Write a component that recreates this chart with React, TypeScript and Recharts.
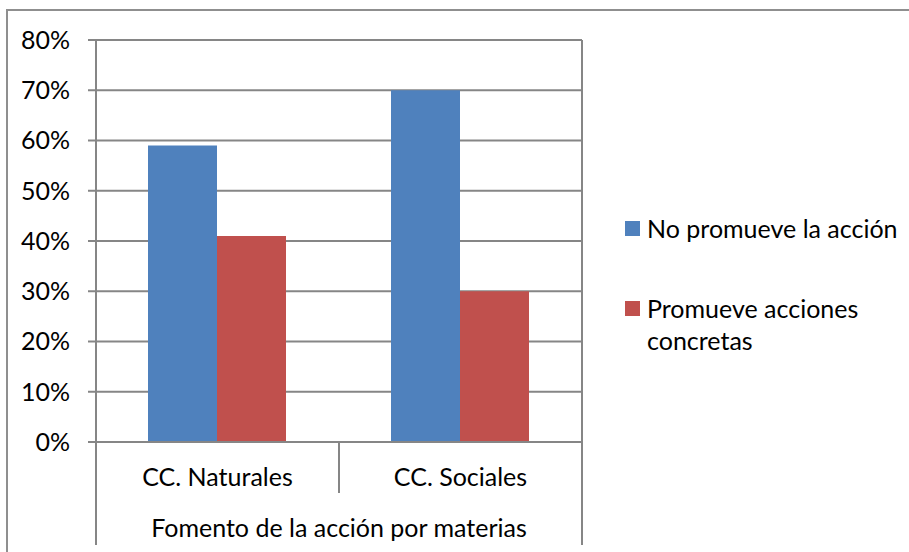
import React from 'react';
import { BarChart, Bar, XAxis, YAxis, CartesianGrid, Legend } from 'recharts';

// Fomento de la acción por materias
const categories = ['CC. Naturales', 'CC. Sociales'];
const noPromueve = [59, 70];
const promueve = [41, 30];
const yTicks = [0, 10, 20, 30, 40, 50, 60, 70, 80];
const seriesNames = ['No promueve la acción', 'Promueve acciones concretas'];
const axisTitle = 'Fomento de la acción por materias';

const FONT = 'Lato, "Open Sans", sans-serif';
const FS = 25;
const GRID = '#868686';
const BLUE = '#4F81BD';
const RED = '#C0504D';

const data = categories.map((name, i) => ({
  name,
  a: noPromueve[i],
  b: promueve[i],
}));

function CategoryTick(props: any) {
  const { x, y, payload, index } = props;
  const half = payload?.offset ?? 0;
  return (
    <g>
      <text x={x} y={y + 44} textAnchor="middle" fontFamily={FONT} fontSize={FS} fill="#000">
        {payload.value}
      </text>
      {index < categories.length - 1 && (
        <line x1={x + half} y1={y} x2={x + half} y2={y + 51} stroke={GRID} strokeWidth={2} />
      )}
    </g>
  );
}

function AxisTitle(props: any) {
  const vb = props.viewBox || {};
  const { x = 0, y = 0, width = 0 } = vb;
  return (
    <g>
      <line x1={x} y1={y} x2={x} y2={y + 103} stroke={GRID} strokeWidth={2} />
      <line x1={x + width} y1={y} x2={x + width} y2={y + 103} stroke={GRID} strokeWidth={2} />
      <text x={x + width / 2} y={y + 95} textAnchor="middle" fontFamily={FONT} fontSize={FS} fill="#000">
        {axisTitle}
      </text>
    </g>
  );
}

function LegendBox(props: any) {
  const items = props.payload || [];
  return (
    <div style={{ fontFamily: FONT, fontSize: FS, lineHeight: '32px', color: '#000' }}>
      {items.map((it: any, i: number) => (
        <div key={i} style={{ display: 'flex', alignItems: 'flex-start', marginTop: i === 0 ? 0 : 48 }}>
          <span
            style={{
              display: 'inline-block',
              width: 15,
              height: 15,
              background: it.color,
              marginTop: 9,
              marginRight: 7,
              flex: 'none',
            }}
          />
          <span style={{ width: 258 }}>{it.value}</span>
        </div>
      ))}
    </div>
  );
}

export default function App() {
  return (
    <div style={{ position: 'absolute', left: 0, top: 0, width: 909, height: 552, background: '#fff' }}>
      <div
        style={{
          position: 'absolute',
          left: 6,
          top: 9,
          width: 920,
          height: 560,
          borderTop: '2px solid #8f8f8f',
          borderLeft: '2px solid #8f8f8f',
        }}
      />
      <BarChart
        width={909}
        height={552}
        data={data}
        margin={{ top: 40, right: 327, bottom: 0, left: 0 }}
        barCategoryGap="21.4%"
        barGap={0}
      >
        <CartesianGrid
          horizontal
          vertical
          stroke={GRID}
          strokeWidth={2}
          verticalCoordinatesGenerator={({ offset }: any) => [offset.left + offset.width]}
        />
        <XAxis
          dataKey="name"
          height={110}
          tickSize={0}
          tickMargin={0}
          tickLine={false}
          axisLine={{ stroke: GRID, strokeWidth: 2 }}
          tick={<CategoryTick />}
          interval={0}
          label={<AxisTitle />}
        />
        <YAxis
          width={96}
          domain={[0, 80]}
          ticks={yTicks}
          interval={0}
          tickSize={8}
          tickMargin={18}
          tickFormatter={(v: number) => `${v}%`}
          axisLine={{ stroke: GRID, strokeWidth: 2 }}
          tickLine={{ stroke: GRID, strokeWidth: 2 }}
          tick={{ fontFamily: FONT, fontSize: FS, fill: '#000' }}
        />
        <Legend
          layout="horizontal"
          align="center"
          verticalAlign="middle"
          wrapperStyle={{ left: 625, top: 212, width: 285 }}
          content={<LegendBox />}
        />
        <Bar dataKey="a" name={seriesNames[0]} fill={BLUE} isAnimationActive={false} />
        <Bar dataKey="b" name={seriesNames[1]} fill={RED} isAnimationActive={false} />
      </BarChart>
    </div>
  );
}
